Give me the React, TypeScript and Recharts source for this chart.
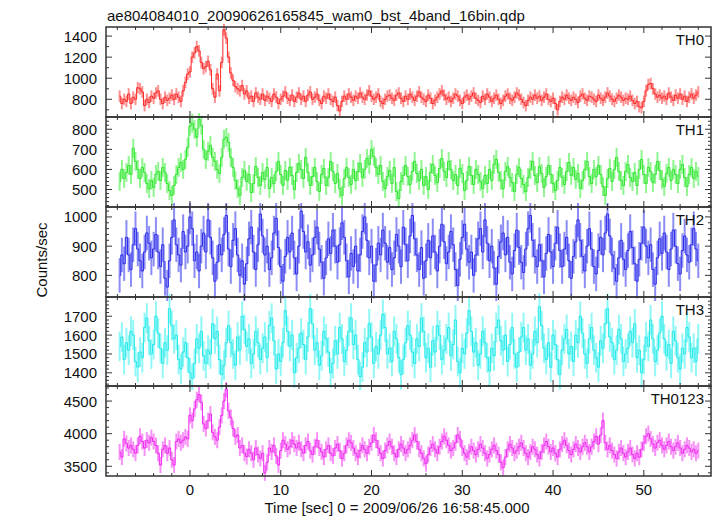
import React from 'react'
import { ComposedChart, Line, XAxis, YAxis, ErrorBar } from 'recharts'

// light curves, 0.25 s bins starting at t = -7.75 s
const T_START = -7.75
const BIN = 0.25

const th0 = [
  830, 760, 800, 780, 850, 760, 820, 800, 910, 900, 870, 740, 800, 770, 830, 810,
  860, 880, 800, 760, 820, 790, 810, 840, 800, 850, 820, 780, 880, 960, 1040, 1060,
  1200, 1240, 1300, 1260, 1150, 1090, 1110, 1160, 1080, 900, 820, 1040, 880, 1150, 1460, 1380,
  1200, 1050, 980, 920, 900, 880, 930, 850, 880, 810, 830, 780, 860, 820, 800, 850,
  790, 830, 810, 780, 850, 820, 760, 800, 830, 870, 810, 790, 840, 780, 820, 860,
  800, 830, 780, 840, 870, 800, 820, 850, 790, 760, 830, 810, 850, 800, 780, 820,
  740, 690, 780, 830, 800, 850, 820, 790, 830, 810, 860, 820, 800, 840, 880, 830,
  800, 820, 850, 780, 760, 800, 830, 840, 810, 790, 840, 860, 810, 780, 830, 800,
  850, 820, 790, 830, 870, 820, 800, 780, 840, 810, 760, 790, 820, 850, 880, 840,
  800, 820, 780, 810, 850, 830, 790, 760, 820, 840, 800, 830, 860, 810, 790, 770,
  830, 800, 850, 820, 780, 810, 840, 800, 760, 790, 830, 850, 810, 790, 820, 860,
  840, 800, 770, 740, 790, 820, 800, 840, 810, 830, 790, 820, 850, 800, 780, 810,
  760, 700, 780, 820, 800, 840, 810, 790, 820, 800, 770, 830, 850, 810, 790, 830,
  820, 800, 780, 840, 810, 790, 820, 860, 830, 800, 780, 810, 840, 820, 790, 810,
  800, 830, 790, 760, 780, 730, 720, 780, 880, 940, 950, 900, 850, 820, 840, 810,
  830, 800, 860, 820, 790, 840, 810, 850, 800, 830, 780, 820, 850, 810, 840, 870,
]

const th1 = [
  540, 600, 555, 585, 620, 575, 705, 640, 600, 555, 610, 585, 530, 505, 545, 510,
  575, 590, 545, 610, 585, 530, 495, 470, 520, 575, 610, 635, 600, 650, 710, 815,
  830, 800, 760, 850, 820, 700, 650, 690, 720, 660, 640, 600, 580, 660, 750, 760,
  735, 660, 610, 545, 505, 470, 560, 595, 540, 575, 485, 530, 615, 560, 520, 585,
  550, 610, 505, 560, 530, 590, 640, 575, 520, 595, 545, 610, 570, 500, 585, 630,
  600, 555, 660, 585, 520, 565, 610, 540, 490, 575, 605, 520, 560, 640, 590, 530,
  580, 505, 470, 555, 610, 560, 525, 600, 545, 590, 630, 560, 600, 655, 625, 700,
  665, 610, 575, 620, 540, 505, 565, 595, 530, 610, 490, 455, 540, 570, 620, 565,
  525, 590, 640, 580, 545, 600, 520, 565, 500, 585, 625, 570, 535, 605, 655, 590,
  560, 640, 600, 545, 575, 520, 605, 580, 495, 545, 615, 570, 525, 600, 575, 540,
  505, 570, 530, 600, 545, 625, 650, 585, 545, 505, 590, 615, 560, 535, 490, 575,
  610, 555, 525, 490, 560, 600, 640, 570, 535, 615, 580, 510, 565, 620, 575, 530,
  495, 545, 610, 560, 525, 590, 635, 570, 610, 550, 580, 505, 545, 600, 640, 565,
  530, 600, 565, 620, 575, 515, 470, 555, 605, 540, 600, 660, 590, 545, 520, 590,
  625, 560, 540, 585, 520, 600, 650, 575, 530, 610, 590, 535, 575, 640, 595, 550,
  515, 580, 610, 545, 600, 575, 530, 600, 625, 560, 515, 575, 610, 555, 590, 565,
]

const th2 = [
  800, 870, 840, 930, 870, 820, 905, 960, 890, 850, 815, 880, 945, 910, 860, 890,
  940, 880, 830, 905, 790, 760, 850, 930, 990, 905, 870, 835, 950, 880, 900, 1000,
  960, 850, 880, 815, 900, 945, 880, 990, 930, 860, 780, 845, 905, 870, 940, 1005,
  890, 830, 920, 960, 870, 800, 850, 770, 840, 925, 965, 880, 820, 905, 1010, 935,
  870, 900, 820, 860, 945, 995, 895, 830, 780, 865, 930, 880, 945, 860, 805, 900,
  1020, 950, 880, 915, 835, 870, 930, 965, 890, 845, 790, 860, 925, 875, 955, 900,
  845, 905, 980, 930, 850, 795, 875, 830, 900, 815, 870, 950, 1000, 920, 860, 900,
  780, 835, 910, 870, 955, 910, 845, 895, 820, 860, 940, 900, 830, 965, 905, 850,
  935, 1005, 925, 870, 820, 895, 790, 850, 920, 860, 935, 880, 815, 900, 975, 915,
  840, 880, 950, 905, 820, 765, 855, 930, 975, 890, 845, 880, 800, 870, 925, 960,
  880, 990, 910, 850, 900, 825, 770, 865, 915, 945, 870, 930, 845, 805, 885, 955,
  895, 845, 810, 890, 960, 1005, 920, 865, 830, 905, 850, 795, 875, 940, 880, 830,
  910, 965, 885, 830, 890, 930, 850, 790, 865, 915, 990, 920, 865, 815, 900, 960,
  890, 830, 805, 885, 930, 870, 945, 1010, 935, 870, 825, 780, 860, 920, 855, 820,
  885, 950, 895, 840, 780, 855, 910, 965, 900, 860, 905, 820, 770, 860, 925, 875,
  945, 880, 820, 890, 955, 900, 840, 805, 885, 935, 870, 845, 905, 960, 890, 850,
]

const th3 = [
  1540, 1590, 1470, 1560, 1520, 1620, 1600, 1460, 1430, 1510, 1480, 1640, 1690, 1570, 1500, 1550,
  1700, 1610, 1530, 1450, 1560, 1520, 1740, 1650, 1580, 1600, 1470, 1420, 1510, 1560, 1480, 1400,
  1370, 1450, 1580, 1530, 1620, 1490, 1450, 1520, 1500, 1660, 1580, 1620, 1470, 1390, 1440, 1560,
  1650, 1560, 1500, 1440, 1590, 1520, 1700, 1630, 1540, 1580, 1450, 1500, 1620, 1560, 1470, 1530,
  1590, 1480, 1650, 1690, 1570, 1420, 1500, 1460, 1560, 1730, 1620, 1540, 1600, 1400, 1480, 1530,
  1610, 1550, 1470, 1590, 1740, 1660, 1520, 1560, 1440, 1490, 1620, 1580, 1510, 1400, 1450, 1570,
  1500, 1640, 1580, 1460, 1520, 1620, 1690, 1550, 1600, 1470, 1380, 1430, 1560, 1510, 1660, 1590,
  1450, 1540, 1500, 1600, 1710, 1640, 1500, 1530, 1460, 1620, 1580, 1480, 1390, 1470, 1560, 1650,
  1600, 1510, 1450, 1580, 1540, 1690, 1620, 1480, 1530, 1430, 1570, 1510, 1650, 1600, 1470, 1520,
  1580, 1640, 1490, 1550, 1680, 1460, 1400, 1530, 1500, 1610, 1730, 1620, 1510, 1560, 1440, 1500,
  1620, 1560, 1480, 1410, 1530, 1490, 1640, 1680, 1570, 1520, 1600, 1460, 1550, 1640, 1500, 1430,
  1510, 1590, 1640, 1520, 1580, 1440, 1500, 1620, 1560, 1750, 1650, 1530, 1470, 1560, 1430, 1600,
  1550, 1470, 1390, 1520, 1580, 1630, 1500, 1540, 1460, 1600, 1560, 1700, 1610, 1500, 1450, 1580,
  1640, 1520, 1480, 1430, 1570, 1530, 1660, 1740, 1590, 1560, 1470, 1520, 1630, 1580, 1460, 1500,
  1530, 1620, 1560, 1660, 1480, 1520, 1400, 1470, 1590, 1540, 1680, 1580, 1460, 1520, 1610, 1700,
  1580, 1490, 1550, 1450, 1620, 1570, 1480, 1420, 1530, 1500, 1640, 1590, 1480, 1530, 1460, 1580,
]

const th0123 = [
  3720, 3640, 3920, 3850, 3780, 3820, 3760, 3700, 3820, 3960, 3880, 3780, 3900, 3860, 3940, 3880,
  3820, 3700, 3520, 3760, 3820, 3700, 3780, 3600, 3520, 3880, 3920, 3860, 3900, 3950, 3920, 4280,
  4200, 4380, 4520, 4600, 4480, 4150, 4080, 4200, 4300, 4020, 3950, 3900, 4100, 4280, 4500, 4680,
  4350, 4250, 4080, 3950, 3980, 3780, 3820, 3700, 3650, 3760, 3700, 3600, 3780, 3680, 3620, 3700,
  3400, 3560, 3780, 3720, 3820, 3660, 3520, 3740, 3900, 3840, 3760, 3800, 3900, 3840, 3780, 3860,
  3760, 3700, 3820, 3880, 3740, 3680, 3800, 3900, 3780, 3720, 3640, 3760, 3820, 3700, 3660, 3780,
  3840, 3740, 3620, 3700, 3820, 3900, 3860, 3780, 3700, 3640, 3740, 3820, 3760, 3700, 3800, 3860,
  3980, 3900, 3780, 3700, 3620, 3740, 3820, 3880, 3800, 3700, 3640, 3760, 3840, 3780, 3700, 3760,
  3820, 3900, 3980, 3880, 3760, 3700, 3620, 3540, 3680, 3780, 3840, 3760, 3700, 3800, 3880, 3960,
  3900, 3820, 3740, 3780, 3860, 3980, 3920, 3780, 3700, 3640, 3720, 3800, 3740, 3680, 3760, 3840,
  3780, 3700, 3620, 3680, 3760, 3820, 3740, 3680, 3560, 3480, 3640, 3760, 3840, 3780, 3700, 3740,
  3800, 3860, 3780, 3700, 3640, 3720, 3800, 3760, 3680, 3620, 3720, 3820, 3880, 3800, 3720, 3780,
  3700, 3640, 3760, 3840, 3900, 3820, 3740, 3680, 3760, 3840, 3780, 3720, 3800, 3860, 3800, 3720,
  3800, 3880, 3960, 3840, 3980, 4200, 3860, 3760, 3820, 3740, 3680, 3620, 3720, 3780, 3700, 3640,
  3720, 3780, 3680, 3620, 3700, 3640, 3760, 3860, 3960, 4000, 3920, 3840, 3780, 3860, 3900, 3820,
  3760, 3820, 3880, 3800, 3740, 3800, 3860, 3780, 3700, 3760, 3820, 3780, 3720, 3760, 3700, 3740,
]

const bands = ['TH0', 'TH1', 'TH2', 'TH3', 'TH0123']
const series = [th0, th1, th2, th3, th0123]
const errors = [55, 47, 59, 79, 123] // 1 sigma, counts/sec

const yDomains = [[632, 1486], [413, 861], [726, 1034], [1330, 1802], [3351, 4731]]
const yMajor = [
  [800, 1000, 1200, 1400],
  [500, 600, 700, 800],
  [800, 900, 1000],
  [1400, 1500, 1600, 1700],
  [3500, 4000, 4500],
]
const yMinorStep = [100, 20, 20, 20, 100]
const xMajor = [0, 10, 20, 30, 40, 50]
const xMinorStep = 2
const xDomain = [-9.25, 57.4]

const lineColors = ['#ff2626', '#2ee62e', '#2a2ae8', '#22e8e8', '#f028f0']
const barColors = ['#ff9090', '#90f590', '#8c8cf5', '#90f7f7', '#f790f7']

const W = 717
const H = 516
const LEFT = 106
const RIGHT = 711
const panelTops = [27, 117, 207, 297, 386]
const panelBottom = 476
const FONT = "'Liberation Sans', Arial, Helvetica, sans-serif"

function range(a: number, b: number, step: number) {
  const out: number[] = []
  const start = Math.ceil(a / step) * step
  for (let v = start; v <= b + 1e-9; v += step) out.push(Math.round(v * 1000) / 1000)
  return out
}

const isMajor = (majors: number[], v: number) => majors.some((m) => Math.abs(m - v) < 1e-6)
const xTicks = range(xDomain[0], xDomain[1], xMinorStep)

// tick labels only; the frame and tick marks go in the overlay below
function LeftLabel(props: any) {
  const { x, y, payload, majors } = props
  if (!isMajor(majors, payload.value)) return <g />
  return (
    <text x={x - 9} y={y} textAnchor="end" dominantBaseline="central" fontSize={15} fill="#111">
      {payload.value}
    </text>
  )
}

function BottomLabel(props: any) {
  const { x, y, payload } = props
  if (!isMajor(xMajor, payload.value)) return <g />
  return (
    <text x={x} y={y + 13} textAnchor="middle" dominantBaseline="central" fontSize={15} fill="#111">
      {payload.value}
    </text>
  )
}

function Panel({ idx }: { idx: number }) {
  const last = idx === series.length - 1
  const top = panelTops[idx]
  const plotH = (last ? panelBottom : panelTops[idx + 1]) - top
  const bottomAxisH = last ? 40 : 0
  const height = 4 + plotH + bottomAxisH + (last ? 0 : 4)
  const data = series[idx].map((v, i) => ({ t: T_START + i * BIN, v, err: errors[idx] }))
  const [y0, y1] = yDomains[idx]
  const yTicks = range(y0, y1, yMinorStep[idx])

  return (
    <div style={{ position: 'absolute', left: 0, top: top - 4 }}>
      <ComposedChart width={W} height={height} data={data} margin={{ top: 4, right: W - RIGHT, bottom: last ? 0 : 4, left: 0 }}>
        <XAxis
          dataKey="t"
          type="number"
          domain={xDomain}
          allowDataOverflow
          ticks={xTicks}
          interval={0}
          height={bottomAxisH}
          tickSize={0}
          tickMargin={0}
          tickLine={false}
          axisLine={false}
          tick={last ? <BottomLabel /> : false}
        />
        <YAxis
          type="number"
          domain={[y0, y1]}
          allowDataOverflow
          ticks={yTicks}
          interval={0}
          width={LEFT}
          tickSize={0}
          tickMargin={0}
          tickLine={false}
          axisLine={false}
          tick={<LeftLabel majors={yMajor[idx]} />}
        />
        <Line dataKey="v" stroke="none" dot={false} activeDot={false} isAnimationActive={false}>
          <ErrorBar dataKey="err" direction="y" width={0} stroke={barColors[idx]} strokeWidth={2} />
        </Line>
        <Line
          type="step"
          dataKey="v"
          stroke={lineColors[idx]}
          strokeWidth={1}
          dot={false}
          activeDot={false}
          isAnimationActive={false}
        />
      </ComposedChart>
    </div>
  )
}

// frame with inward ticks on all four sides of each panel
function Frames() {
  const items: React.ReactNode[] = []
  const sx = (t: number) => LEFT + ((t - xDomain[0]) / (xDomain[1] - xDomain[0])) * (RIGHT - LEFT)
  series.forEach((_, i) => {
    const top = panelTops[i]
    const bot = i === series.length - 1 ? panelBottom : panelTops[i + 1]
    const [y0, y1] = yDomains[i]
    const sy = (v: number) => bot - ((v - y0) / (y1 - y0)) * (bot - top)
    range(y0, y1, yMinorStep[i]).forEach((v) => {
      const len = isMajor(yMajor[i], v) ? 6 : 3
      const y = sy(v)
      items.push(<line key={`l${i}-${v}`} x1={LEFT} x2={LEFT + len} y1={y} y2={y} />)
      items.push(<line key={`r${i}-${v}`} x1={RIGHT} x2={RIGHT - len} y1={y} y2={y} />)
    })
    xTicks.forEach((t) => {
      const len = isMajor(xMajor, t) ? 6 : 3
      const x = sx(t)
      items.push(<line key={`t${i}-${t}`} x1={x} x2={x} y1={top} y2={top + len} />)
      items.push(<line key={`b${i}-${t}`} x1={x} x2={x} y1={bot} y2={bot - len} />)
    })
    items.push(<rect key={`f${i}`} x={LEFT} y={top} width={RIGHT - LEFT} height={bot - top} fill="none" strokeWidth={1.5} />)
  })
  return (
    <g stroke="#333" strokeWidth={1}>
      {items}
    </g>
  )
}

export default function App() {
  return (
    <div style={{ position: 'absolute', left: 0, top: 0, width: W, height: H, background: '#fff', fontFamily: FONT }}>
      {series.map((_, i) => (
        <Panel key={bands[i]} idx={i} />
      ))}
      <svg width={W} height={H} style={{ position: 'absolute', left: 0, top: 0, pointerEvents: 'none' }}>
        <Frames />
        <g fontFamily={FONT} fontSize={15} fill="#111">
          <text x={107} y={15} dominantBaseline="central">
            ae804084010_20090626165845_wam0_bst_4band_16bin.qdp
          </text>
          <text x={41} y={260} textAnchor="middle" dominantBaseline="central" transform="rotate(-90 41 260)">
            Counts/sec
          </text>
          {bands.map((b, i) => (
            <text key={b} x={704} y={panelTops[i] + 12} textAnchor="end" dominantBaseline="central">
              {b}
            </text>
          ))}
          <text x={397} y={507} textAnchor="middle" dominantBaseline="central">
            Time [sec] 0 = 2009/06/26 16:58:45.000
          </text>
        </g>
      </svg>
    </div>
  )
}
